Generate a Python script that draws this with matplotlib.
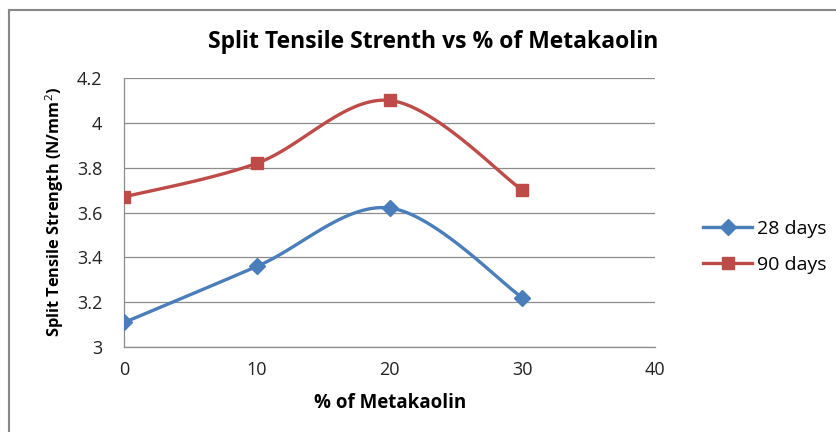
import numpy as np
import matplotlib
matplotlib.use("Agg")
import matplotlib.pyplot as plt
from matplotlib.lines import Line2D

x_vals = [0, 10, 20, 30]
days28 = [3.11, 3.36, 3.62, 3.22]
days90 = [3.67, 3.82, 4.10, 3.70]
series_names = ["28 days", "90 days"]
title = "Split Tensile Strenth vs % of Metakaolin"
xlabel = "% of Metakaolin"
ylabel = "Split Tensile Strength (N/mm$^2$)"
xticks = [0, 10, 20, 30, 40]
yticks = [3, 3.2, 3.4, 3.6, 3.8, 4, 4.2]
ytick_labels = ["3", "3.2", "3.4", "3.6", "3.8", "4", "4.2"]

plt.rcParams['font.family'] = ['Open Sans', 'DejaVu Sans']
plt.rcParams['mathtext.fontset'] = 'custom'
plt.rcParams['mathtext.rm'] = 'Open Sans'
plt.rcParams['mathtext.bf'] = 'Open Sans:bold'


def smooth(xs, ys, n=40):
    """Excel-like smoothed line (Catmull-Rom bezier)."""
    xs = np.asarray(xs, float)
    ys = np.asarray(ys, float)
    P = np.column_stack([xs, ys])
    out = []
    for i in range(len(P) - 1):
        p0 = P[i - 1] if i > 0 else P[i]
        p1 = P[i]
        p2 = P[i + 1]
        p3 = P[i + 2] if i + 2 < len(P) else P[i + 1]
        c1 = p1 + (p2 - p0) / 6.0
        c2 = p2 - (p3 - p1) / 6.0
        t = np.linspace(0, 1, n)[:, None]
        seg = ((1 - t) ** 3) * p1 + 3 * ((1 - t) ** 2) * t * c1 + 3 * (1 - t) * t ** 2 * c2 + t ** 3 * p2
        out.append(seg if i == 0 else seg[1:])
    s = np.vstack(out)
    return s[:, 0], s[:, 1]


fig = plt.figure(figsize=(8.37, 4.32), dpi=100)
ax = fig.add_axes([124.5 / 837, 1 - 347 / 432, (655 - 124.5) / 837, (347 - 78) / 432])

blue = "#4a7ebb"
red = "#be4b48"

for ys, col, mk, ms in [(days28, blue, "D", 8), (days90, red, "s", 8.5)]:
    sx, sy = smooth(x_vals, ys)
    ax.plot(sx, sy, color=col, lw=2.4, solid_capstyle="round", zorder=3)
    ax.plot(x_vals, ys, ls="none", marker=mk, ms=ms, color=col, zorder=4)

ax.set_xlim(0, 40)
ax.set_ylim(3, 4.2)
ax.set_xticks(xticks)
ax.set_yticks(yticks)
ax.set_yticklabels(ytick_labels)
ax.tick_params(length=0, labelsize=13, colors="#222222", pad=10)
ax.tick_params(axis="y", pad=16)
ax.grid(axis="y", color="#8c8c8c", lw=0.9)
ax.set_axisbelow(True)
for s in ["top", "right"]:
    ax.spines[s].set_visible(False)
for s in ["left", "bottom"]:
    ax.spines[s].set_color("#8c8c8c")
    ax.spines[s].set_linewidth(0.9)

ax.set_xlabel(xlabel, fontsize=13.5, fontweight="bold", labelpad=10)
ax.set_ylabel(ylabel, fontsize=11.8, fontweight="bold", labelpad=8)

fig.text(433 / 837, 1 - 42 / 432, title, ha="center", va="center",
         fontsize=16.5, fontweight="bold")

handles = [Line2D([], [], color=blue, lw=2.4, marker="D", ms=8),
           Line2D([], [], color=red, lw=2.4, marker="s", ms=8.5)]
fig.legend(handles, series_names, loc="center left",
           bbox_to_anchor=(686 / 837, 1 - 247 / 432), frameon=False,
           fontsize=14, handlelength=2.5, handletextpad=0.25, labelspacing=0.95)

# outer chart frame
fig.add_artist(Line2D([9 / 837, 1], [1 - 10 / 432, 1 - 10 / 432], color="#888888", lw=1.5,
                      transform=fig.transFigure))
fig.add_artist(Line2D([9 / 837, 9 / 837], [0, 1 - 10 / 432], color="#888888", lw=1.5,
                      transform=fig.transFigure))

fig.savefig("out.png", dpi=100)
